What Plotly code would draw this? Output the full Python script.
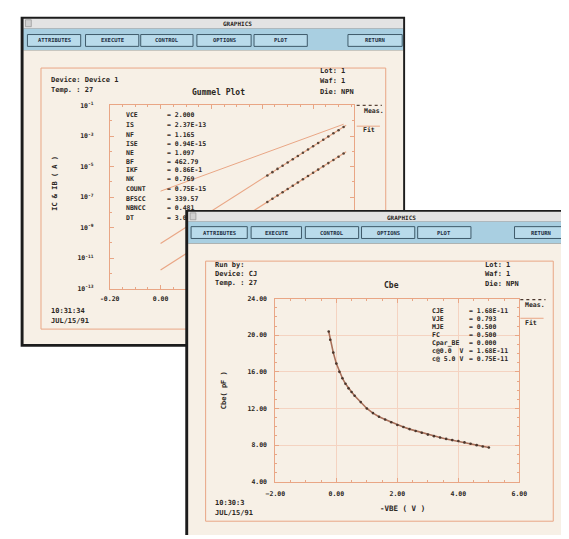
import plotly.graph_objects as go

W, H = 569, 539
FONT = "DejaVu Sans Mono"
DARK = "#2b2622"
SALMON = "#e9a685"
GRID = "#f4d3c1"
CREAM = "#f7f0e6"
BLUE = "#a9cfe1"
BTN = "#b9dbeb"
BTNLINE = "#3e5a6a"
TITLEBAR = "#e3e3e3"
BORDER = "#1c1c1c"

# ---------------- data: Gummel plot (back window) ----------------
v_fit = [0.0, 0.73]
ic_fit = [9.3e-11, 5.1e-3]
ib_fit = [1.7e-12, 9.3e-5]
v_fit2 = [0.0, 0.72]
ib_rec_fit = [2.45e-7, 5.9e-3]

v_meas = [0.42, 0.44, 0.46, 0.48, 0.50, 0.52, 0.54, 0.56,
          0.58, 0.60, 0.62, 0.64, 0.66, 0.68, 0.70, 0.72]
ic_meas = [2.6e-6, 4.3e-6, 7.0e-6, 1.14e-5, 1.86e-5, 3.0e-5, 4.9e-5, 8.0e-5,
           1.31e-4, 2.14e-4, 3.5e-4, 5.7e-4, 9.2e-4, 1.5e-3, 2.4e-3, 3.9e-3]
ib_meas = [4.8e-8, 7.8e-8, 1.27e-7, 2.07e-7, 3.4e-7, 5.5e-7, 9.0e-7, 1.46e-6,
           2.4e-6, 3.9e-6, 6.3e-6, 1.03e-5, 1.68e-5, 2.7e-5, 4.4e-5, 7.1e-5]

gummel_xticks = [-0.2, 0.0, 0.2, 0.4, 0.6]
# labels right of 0.00 lie under the front window in the reference
gummel_xlabels = ["-0.20", "0.00", "", "", ""]
gummel_yexp = [-1, -3, -5, -7, -9, -11, -13]

params_back_names = ["VCE", "IS", "NF", "ISE", "NE", "BF", "IKF", "NK",
                     "COUNT", "BFSCC", "NBNCC", "DT"]
params_back_vals = ["= 2.000", "= 2.37E-13", "= 1.165", "= 0.94E-15", "= 1.097",
                    "= 462.79", "= 0.86E-1", "= 0.769", "= 0.75E-15",
                    "= 339.57", "= 0.481", "= 3.0"]

# ---------------- data: Cbe plot (front window) ----------------
vbe = [-0.25, -0.2, -0.1, 0.0, 0.1, 0.2, 0.3, 0.4, 0.5, 0.6, 0.8, 1.0, 1.2, 1.4,
       1.6, 1.8, 2.0, 2.2, 2.4, 2.6, 2.8, 3.0, 3.2, 3.4, 3.6, 3.8, 4.0, 4.2,
       4.4, 4.6, 4.8, 5.0]
cbe = [20.4, 19.5, 18.1, 16.9, 16.0, 15.3, 14.7, 14.2, 13.8, 13.4, 12.7, 12.0,
       11.5, 11.1, 10.8, 10.5, 10.2, 9.98, 9.75, 9.55, 9.35, 9.15, 8.98, 8.83,
       8.68, 8.55, 8.45, 8.3, 8.15, 8.0, 7.86, 7.75]

params_front_names = ["CJE", "VJE", "MJE", "FC", "Cpar_BE", "c@0.0  V", "c@ 5.0 V"]
params_front_vals = ["= 1.68E-11", "= 0.793", "= 0.500", "= 0.500", "= 0.000",
                     "= 1.68E-11", "= 0.75E-11"]

buttons = ["ATTRIBUTES", "EXECUTE", "CONTROL", "OPTIONS", "PLOT", "RETURN"]


def fx(x):
    return x / W


def fy(y):
    return 1 - y / H


fig = go.Figure()

# subplot 1 (x,y): Gummel plot
fig.add_trace(go.Scatter(x=v_fit, y=ic_fit, mode="lines",
                         line=dict(color=SALMON, width=1.2), xaxis="x", yaxis="y"))
fig.add_trace(go.Scatter(x=v_fit, y=ib_fit, mode="lines",
                         line=dict(color=SALMON, width=1.2), xaxis="x", yaxis="y"))
fig.add_trace(go.Scatter(x=v_fit2, y=ib_rec_fit, mode="lines",
                         line=dict(color=SALMON, width=1.0), xaxis="x", yaxis="y"))
fig.add_trace(go.Scatter(x=v_meas, y=ic_meas, mode="markers",
                         marker=dict(color="#5a4538", size=2.6), xaxis="x", yaxis="y"))
fig.add_trace(go.Scatter(x=v_meas, y=ib_meas, mode="markers",
                         marker=dict(color="#5a4538", size=2.6), xaxis="x", yaxis="y"))
# subplot 2 (x2,y2): front window cover (pixel coordinates)
fig.add_trace(go.Scatter(x=[None], y=[None], mode="markers", xaxis="x2", yaxis="y2",
                         hoverinfo="skip"))
# subplot 3 (x3,y3): Cbe plot
fig.add_trace(go.Scatter(x=vbe, y=cbe, mode="lines",
                         line=dict(color="#a8705a", width=1.6), xaxis="x3", yaxis="y3"))
fig.add_trace(go.Scatter(x=vbe, y=cbe, mode="markers",
                         marker=dict(color="#4a362c", size=2.6), xaxis="x3", yaxis="y3"))

shapes = []
annots = []


def prect(x0, y0, x1, y1, fill=None, line=None, lw=1):
    shapes.append(dict(type="rect", xref="paper", yref="paper", layer="below",
                       x0=fx(x0), x1=fx(x1), y0=fy(y0), y1=fy(y1),
                       fillcolor=fill if fill else "rgba(0,0,0,0)",
                       line=dict(color=line if line else "rgba(0,0,0,0)", width=lw if line else 0)))


def frect(x0, y0, x1, y1, fill=None, line=None, lw=1):
    shapes.append(dict(type="rect", xref="x2", yref="y2", layer="below",
                       x0=x0, x1=x1, y0=y0, y1=y1,
                       fillcolor=fill if fill else "rgba(0,0,0,0)",
                       line=dict(color=line if line else "rgba(0,0,0,0)", width=lw if line else 0)))


def txt(x, y, s, size=7, anchor="left", angle=0, color=DARK):
    annots.append(dict(x=x, y=y, xref="x2", yref="y2", text=s, showarrow=False,
                       xanchor=anchor, yanchor="middle", textangle=angle,
                       font=dict(family=FONT, size=size, color=color, weight="bold")))


# ---------------- back window chrome (paper, lower layer) ----------------
prect(11, 13, 408, 348, fill=BORDER)
prect(14, 15, 406, 25, fill=TITLEBAR)
prect(16, 16, 22, 23, fill="#d0d0d0", line="#888888", lw=0.6)
prect(14, 25, 406, 47, fill=BLUE)
prect(14, 47, 406, 345, fill=CREAM)
prect(32, 65, 388, 330, line=SALMON, lw=1)
back_btn_x = [(18, 73), (78, 133), (135, 189), (193, 249), (252, 307), (349, 405)]
for (a, b) in back_btn_x:
    prect(a, 31, b, 43, fill=BTN, line=BTNLINE, lw=1)
# back legend samples
shapes.append(dict(type="line", xref="paper", yref="paper", layer="below",
                   x0=fx(358), x1=fx(384), y0=fy(103), y1=fy(103),
                   line=dict(color="#5a4538", width=1.2, dash="dot")))
shapes.append(dict(type="line", xref="paper", yref="paper", layer="below",
                   x0=fx(358), x1=fx(382), y0=fy(124), y1=fy(124),
                   line=dict(color=SALMON, width=1)))

# ---------------- front window chrome (subplot x2y2 layer) ----------------
frect(181, 209, 620, 600, fill=BORDER)
frect(184, 211, 620, 221, fill=TITLEBAR)
frect(186, 212, 192, 219, fill="#d0d0d0", line="#888888", lw=0.6)
frect(184, 221, 620, 243, fill=BLUE)
frect(184, 243, 620, 600, fill=CREAM)
frect(202, 261, 561, 525, line=SALMON, lw=1)
front_btn_x = [(187, 245), (249, 301), (305, 360), (363, 418), (421, 476), (521, 580)]
for (a, b) in front_btn_x:
    frect(a, 226, b, 238, fill=BTN, line=BTNLINE, lw=1)
shapes.append(dict(type="line", xref="x2", yref="y2", layer="below",
                   x0=527, x1=553, y0=300, y1=300,
                   line=dict(color="#4a362c", width=1.2, dash="dot")))
shapes.append(dict(type="line", xref="x2", yref="y2", layer="below",
                   x0=527, x1=551, y0=319, y1=319,
                   line=dict(color=SALMON, width=1)))

# ---------------- back window texts ----------------
txt(218, 20, "GRAPHICS", size=6)
for (a, b), lab in zip(back_btn_x, buttons):
    txt((a + b) / 2, 37, lab, size=5.5, anchor="center", color="#1f2f44")
txt(40, 77, "Device: Device 1")
txt(40, 87, "Temp. : 27")
txt(215, 90, "Gummel Plot", size=8, anchor="center")
txt(318, 68, "Lot: 1")
txt(318, 78, "Waf: 1")
txt(318, 89, "Die: NPN")
txt(47, 182, "IC & IB ( A )", size=7, anchor="center", angle=-90)
txt(40, 312, "10:31:34")
txt(40, 322, "JUL/15/91")
txt(363, 109, "Meas.", size=6.5)
txt(362, 128, "Fit", size=6.5)
row_y_back = [113, 123, 132.5, 142, 151, 160, 169, 178, 188, 198, 207, 217]
for yy, nm, vv in zip(row_y_back, params_back_names, params_back_vals):
    txt(118, yy, nm, size=6.5)
    txt(160, yy, vv, size=6.5)

# ---------------- front window texts ----------------
txt(387, 217, "GRAPHICS", size=6)
for (a, b), lab in zip(front_btn_x, buttons):
    cx = (a + b) / 2 if lab != "RETURN" else 548
    txt(cx, 232, lab, size=5.5, anchor="center", color="#1f2f44")
txt(210, 265, "Run by:")
txt(210, 274, "Device: CJ")
txt(210, 283, "Temp. : 27")
txt(394, 286, "Cbe", size=8, anchor="center")
txt(488, 265, "Lot: 1")
txt(488, 274, "Waf: 1")
txt(488, 284, "Die: NPN")
txt(221, 392, "Cbe( pF )", size=7, anchor="center", angle=-90)
txt(405, 512, "-VBE ( V )", size=7.5, anchor="center")
txt(210, 507, "10:30:3")
txt(210, 517, "JUL/15/91")
txt(530, 306, "Meas.", size=6.5)
txt(530, 324, "Fit", size=6.5)
row_y_front = [312, 320, 328, 336, 344, 352, 360]
for yy, nm, vv in zip(row_y_front, params_front_names, params_front_vals):
    txt(434, yy, nm, size=6.5)
    txt(472, yy, vv, size=6.5)

tickfont = dict(family=FONT, size=6.5, color=DARK, weight="bold")

fig.update_layout(
    width=W, height=H,
    margin=dict(l=0, r=0, t=0, b=0),
    paper_bgcolor="white",
    plot_bgcolor="rgba(0,0,0,0)",
    showlegend=False,
    shapes=shapes,
    annotations=annots,
    xaxis=dict(domain=[fx(103), fx(355)], range=[-0.2, 0.76], anchor="y",
               tickvals=gummel_xticks, ticktext=gummel_xlabels, tickfont=tickfont,
               ticks="inside", ticklen=4, tickcolor=SALMON,
               showline=True, linecolor=SALMON, linewidth=1, mirror="ticks",
               showgrid=False, zeroline=False, ticklabelstandoff=3,
               minor=dict(ticks="inside", ticklen=2, dtick=0.05, tickcolor=SALMON, showgrid=False)),
    yaxis=dict(domain=[fy(289), fy(103)], type="log", range=[-13, -1], anchor="x",
               tickvals=[10.0 ** e for e in gummel_yexp],
               ticktext=["10<sup>%d</sup>" % e for e in gummel_yexp],
               tickfont=tickfont, ticks="inside", ticklen=4, tickcolor=SALMON,
               showline=True, linecolor=SALMON, linewidth=1, mirror="ticks",
               showgrid=False, zeroline=False, ticklabelstandoff=14,
               minor=dict(ticks="inside", ticklen=2, dtick=1, tickcolor=SALMON, showgrid=False)),
    xaxis2=dict(domain=[0, 1], range=[0, W], anchor="y2", visible=False, fixedrange=True),
    yaxis2=dict(domain=[0, 1], range=[H, 0], anchor="x2", visible=False, fixedrange=True),
    xaxis3=dict(domain=[fx(274), fx(526)], range=[-2, 6], anchor="y3",
                dtick=2, tick0=-2, tickformat=".2f", tickfont=tickfont,
                ticks="inside", ticklen=4, tickcolor=SALMON,
                showline=True, linecolor=SALMON, linewidth=1, mirror="ticks",
                showgrid=True, gridcolor=GRID, gridwidth=1, zeroline=False,
                ticklabelstandoff=5,
                minor=dict(ticks="inside", ticklen=2, dtick=0.5, tickcolor=SALMON, showgrid=False)),
    yaxis3=dict(domain=[fy(485), fy(299)], range=[4, 24], anchor="x3",
                dtick=4, tick0=4, tickformat=".2f", tickfont=tickfont,
                ticks="inside", ticklen=4, tickcolor=SALMON,
                showline=True, linecolor=SALMON, linewidth=1, mirror="ticks",
                showgrid=True, gridcolor=GRID, gridwidth=1, zeroline=False,
                ticklabelstandoff=6,
                minor=dict(ticks="inside", ticklen=2, dtick=1, tickcolor=SALMON, showgrid=False)),
)

fig.write_html("out.html", config={"displayModeBar": False},
               post_script="document.body.style.margin='0px';")
